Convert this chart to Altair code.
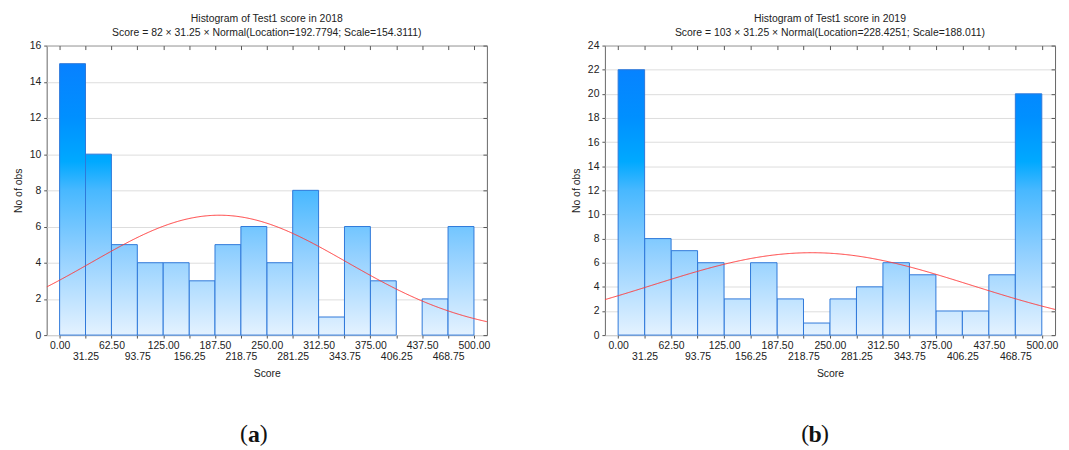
import altair as alt
import pandas as pd

# ---------------- data ----------------
bin_edges = [0.00, 31.25, 62.50, 93.75, 125.00, 156.25, 187.50, 218.75, 250.00,
             281.25, 312.50, 343.75, 375.00, 406.25, 437.50, 468.75, 500.00]
bin_width = 31.25

counts_2018 = [15, 10, 5, 4, 4, 3, 5, 6, 4, 8, 1, 6, 3, 0, 2, 6]
counts_2019 = [22, 8, 7, 6, 3, 6, 3, 1, 3, 4, 6, 5, 2, 2, 5, 20]

fit_n_2018, fit_loc_2018, fit_scale_2018 = 82, 192.7794, 154.3111
fit_n_2019, fit_loc_2019, fit_scale_2019 = 103, 228.4251, 188.011

y_ticks_2018 = [0, 2, 4, 6, 8, 10, 12, 14, 16]
y_ticks_2019 = [0, 2, 4, 6, 8, 10, 12, 14, 16, 18, 20, 22, 24]

title_2018 = "Histogram of Test1 score in 2018"
subtitle_2018 = "Score = 82 × 31.25 × Normal(Location=192.7794; Scale=154.3111)"
title_2019 = "Histogram of Test1 score in 2019"
subtitle_2019 = "Score = 103 × 31.25 × Normal(Location=228.4251; Scale=188.011)"

x_domain = [-15.625, 515.625]

# ---------------- style ----------------
FONT = "Liberation Sans"
FS = 10.5
TEXT = "#222222"
TICK = "#555555"
BAR_STROKE = "#2f78da"
CURVE = "#ff3b3b"
STOPS = [(0.0, "#0a7cff"), (0.25, "#0090ff"), (0.40, "#00a9ff"), (0.50, "#48b8ff"),
         (0.72, "#92d0ff"), (1.0, "#e4f2ff")]


def gradient_for(c, ymax):
    return {
        "gradient": "linear",
        "x1": 0, "x2": 0,
        "y1": 1 - ymax / c, "y2": 1,
        "stops": [{"offset": o, "color": col} for o, col in STOPS],
    }


def panel(counts, n, loc, scale, yticks, width, height, title, subtitle, letter, letter_x):
    ymax = yticks[-1]
    df = pd.DataFrame({"start": bin_edges[:-1], "end": bin_edges[1:], "obs": counts,
                       "base": [0] * len(counts)})
    xs = alt.Scale(domain=x_domain, nice=False, zero=False)
    ys = alt.Scale(domain=[0, ymax], nice=False)

    x_axis = alt.Axis(
        orient="bottom", values=bin_edges, title="Score", grid=False,
        labelExpr="(round(datum.value / 31.25) % 2 == 0) ? format(datum.value, '.2f') : ['', format(datum.value, '.2f')]",
        labelLineHeight=11, labelPadding=3, tickSize=3, domain=False,
        labelOverlap=False, labelFlush=False, titlePadding=6,
    )
    y_axis = alt.Axis(
        orient="left", values=yticks, title="No of obs", grid=True,
        tickSize=3, labelPadding=3, domain=False, titlePadding=6,
        labelOverlap=False,
    )

    layers = []
    first = True
    for c in sorted(set(v for v in counts if v > 0)):
        layers.append(
            alt.Chart(df).transform_filter(alt.datum.obs == c)
            .mark_bar(fill=gradient_for(c, ymax), stroke=BAR_STROKE, strokeWidth=1)
            .encode(
                x=alt.X("start:Q", scale=xs, axis=x_axis if first else None),
                x2="end:Q",
                y=alt.Y("obs:Q", scale=ys, axis=y_axis if first else None),
                y2="base:Q",
            )
        )
        first = False

    curve = (
        alt.Chart(alt.sequence(x_domain[0], x_domain[1] + 1, 1, as_="x"))
        .transform_calculate(
            y=f"{n} * {bin_width} * exp(-0.5 * pow((datum.x - {loc}) / {scale}, 2)) / ({scale} * sqrt(2 * PI))"
        )
        .mark_line(color=CURVE, strokeWidth=1, clip=True)
        .encode(
            x=alt.X("x:Q", scale=xs, axis=alt.Axis(orient="top", values=bin_edges, labels=False,
                                                   domain=False, tickSize=4, offset=-4, title=None,
                                                   grid=False)),
            y=alt.Y("y:Q", scale=ys, axis=alt.Axis(orient="right", values=yticks, labels=False,
                                                   domain=False, tickSize=4, offset=-4, title=None,
                                                   grid=False)),
        )
    )
    layers.append(curve)

    one = pd.DataFrame({"k": [0]})
    ly = height + 100
    layers.append(alt.Chart(one).mark_text(text="(", font="Liberation Serif", fontSize=24,
                                           align="right", baseline="middle", color="#111")
                  .encode(x=alt.value(letter_x - 6), y=alt.value(ly)))
    layers.append(alt.Chart(one).mark_text(text=letter, font="Liberation Serif", fontSize=24,
                                           fontWeight="bold", align="center", baseline="middle", color="#111")
                  .encode(x=alt.value(letter_x), y=alt.value(ly + 1)))
    layers.append(alt.Chart(one).mark_text(text=")", font="Liberation Serif", fontSize=24,
                                           align="left", baseline="middle", color="#111")
                  .encode(x=alt.value(letter_x + 6), y=alt.value(ly)))

    return (
        alt.layer(*layers)
        .resolve_axis(x="independent", y="independent")
        .properties(
            width=width, height=height,
            title=alt.TitleParams(
                text=title, subtitle=subtitle, anchor="middle",
                font=FONT, fontSize=FS, fontWeight="normal", color=TEXT,
                subtitleFont=FONT, subtitleFontSize=FS, subtitleColor=TEXT,
                subtitlePadding=4, offset=2,
            ),
        )
    )


a = panel(counts_2018, fit_n_2018, fit_loc_2018, fit_scale_2018, y_ticks_2018,
          444, 292, title_2018, subtitle_2018, "a", 209)
b = panel(counts_2019, fit_n_2019, fit_loc_2019, fit_scale_2019, y_ticks_2019,
          454, 292, title_2019, subtitle_2019, "b", 212)

chart = (
    alt.hconcat(a, b, spacing=80)
    .properties(padding={"left": 4, "top": 3, "right": 2, "bottom": 2})
    .configure_view(stroke="#666666", strokeWidth=1)
    .configure_axis(
        labelFont=FONT, labelFontSize=FS, labelColor=TEXT,
        titleFont=FONT, titleFontSize=FS, titleColor=TEXT, titleFontWeight="normal",
        tickColor=TICK, gridColor="#dddddd", gridWidth=1,
    )
)

chart.save("out.html", embed_options={"renderer": "svg", "actions": False})
